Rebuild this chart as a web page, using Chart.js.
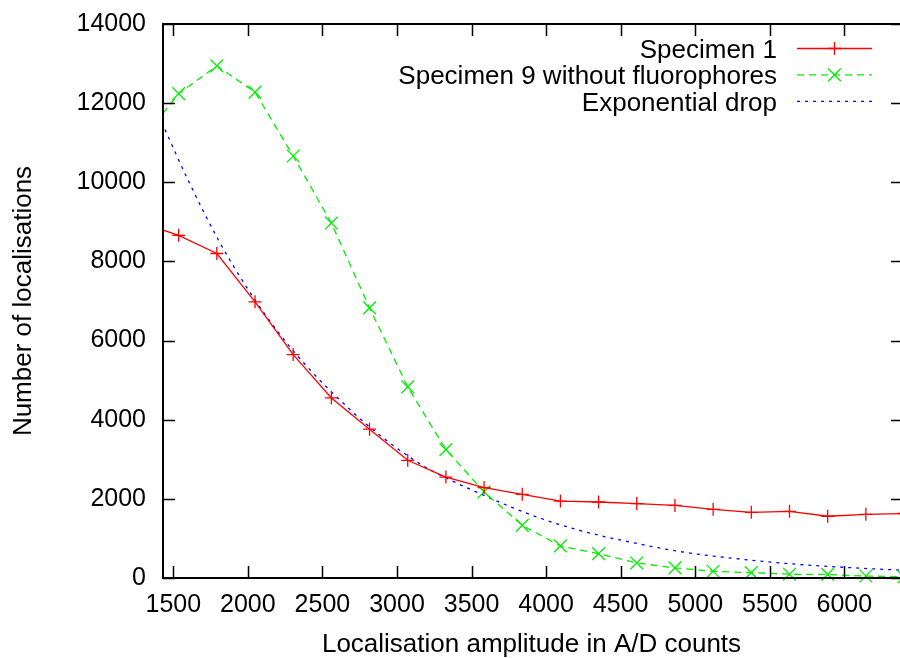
<!DOCTYPE html>
<html>
<head>
<meta charset="utf-8">
<title>Localisation amplitude histogram</title>
<script src="https://cdn.jsdelivr.net/npm/chart.js@4/dist/chart.umd.min.js"></script>
<style>
  html, body { margin: 0; padding: 0; background: #fff; overflow: hidden; }
  canvas { display: block; }
</style>
</head>
<body>
<canvas id="plot" width="900" height="658"></canvas>
<script>
// Histogram bin centres (A/D counts), 256 counts per bin
const amplitudeBins = [1280, 1536, 1792, 2048, 2304, 2560, 2816, 3072, 3328, 3584,
                       3840, 4096, 4352, 4608, 4864, 5120, 5376, 5632, 5888, 6144, 6400];

// Number of localisations per bin
const specimen1Counts = [8980, 8660, 8200, 6980, 5645, 4550, 3760, 2975, 2550, 2285,
                         2115, 1945, 1920, 1880, 1835, 1735, 1660, 1685, 1560, 1610, 1630];
const specimen9Counts = [11020, 12240, 12940, 12280, 10665, 8970, 6825, 4830, 3245, 2175,
                         1330, 810, 615, 380, 255, 170, 135, 95, 90, 50, 30];

// Exponential drop curve, sampled along the amplitude axis
const dropAmplitudes = [1400, 1600, 1800, 2000, 2200, 2400, 2600, 2800, 3000, 3200,
                        3400, 3600, 3800, 4000, 4200, 4400, 4600, 4800, 5000, 5200,
                        5400, 5600, 5800, 6000, 6200, 6400];
const dropCounts = [11700, 10050, 8560, 7300, 6230, 5330, 4560, 3870, 3280, 2780,
                    2400, 2060, 1740, 1460, 1230, 1040, 880, 730, 610, 520,
                    440, 370, 315, 270, 230, 195];

// Axis ticks and ranges
const xTickValues = [1500, 2000, 2500, 3000, 3500, 4000, 4500, 5000, 5500, 6000];
const yTickValues = [0, 2000, 4000, 6000, 8000, 10000, 12000, 14000];
const xRange = [1431, 6373];
const yRange = [0, 14000];

const seriesLabels = ['Specimen 1', 'Specimen 9 without fluorophores', 'Exponential drop'];
const axisTitles = { x: 'Localisation amplitude in A/D counts', y: 'Number of localisations' };

const FONT = "'Liberation Sans', Arial, Helvetica, sans-serif";

const pairs = (xs, ys) => xs.map((v, i) => ({ x: v, y: ys[i] }));

// Frame with inward tick marks on all four sides
const framePlugin = {
  id: 'frame',
  afterDatasetsDraw(chart) {
    const { ctx, chartArea: a, scales: { x, y } } = chart;
    ctx.save();
    ctx.strokeStyle = '#000';
    ctx.lineWidth = 1.5;
    ctx.beginPath();
    x.ticks.forEach(t => {
      const px = Math.round(x.getPixelForValue(t.value)) + 0.5;
      ctx.moveTo(px, a.bottom); ctx.lineTo(px, a.bottom - 12);
      ctx.moveTo(px, a.top); ctx.lineTo(px, a.top + 12);
    });
    y.ticks.forEach(t => {
      const py = Math.round(y.getPixelForValue(t.value)) + 0.5;
      ctx.moveTo(a.left, py); ctx.lineTo(a.left + 12, py);
      ctx.moveTo(a.right, py); ctx.lineTo(a.right - 9, py);
    });
    ctx.stroke();
    ctx.lineWidth = 2;
    ctx.beginPath();
    ctx.moveTo(a.right + 2, a.top);
    ctx.lineTo(a.left, a.top);
    ctx.lineTo(a.left, a.bottom);
    ctx.lineTo(a.right + 2, a.bottom);
    ctx.stroke();
    ctx.restore();
  }
};

// Key in the top right: right-aligned text followed by a line sample
const keyPlugin = {
  id: 'key',
  afterDraw(chart) {
    const { ctx } = chart;
    const textRight = 777, lineStart = 797, lineEnd = 872, firstRow = 48.5, rowStep = 26.4;
    ctx.save();
    ctx.font = '26px ' + FONT;
    ctx.textAlign = 'right';
    ctx.textBaseline = 'alphabetic';
    chart.data.datasets.forEach((ds, i) => {
      const yRow = firstRow + i * rowStep;
      ctx.fillStyle = '#000';
      ctx.fillText(ds.label, textRight, yRow + 9.5);
      ctx.strokeStyle = ds.borderColor;
      ctx.lineWidth = ds.borderWidth;
      ctx.setLineDash(ds.borderDash || []);
      ctx.beginPath();
      ctx.moveTo(lineStart, yRow); ctx.lineTo(lineEnd, yRow);
      ctx.stroke();
      ctx.setLineDash([]);
      const cx = (lineStart + lineEnd) / 2, r = ds.pointRadius;
      ctx.beginPath();
      if (ds.pointStyle === 'cross') {
        ctx.moveTo(cx - r, yRow); ctx.lineTo(cx + r, yRow);
        ctx.moveTo(cx, yRow - r); ctx.lineTo(cx, yRow + r);
      } else if (ds.pointStyle === 'crossRot') {
        const d = r * Math.SQRT1_2;
        ctx.moveTo(cx - d, yRow - d); ctx.lineTo(cx + d, yRow + d);
        ctx.moveTo(cx - d, yRow + d); ctx.lineTo(cx + d, yRow - d);
      }
      ctx.stroke();
    });
    ctx.restore();
  }
};

const markerClip = { left: 1, right: 6, top: 6, bottom: 12 };

new Chart(document.getElementById('plot'), {
  type: 'line',
  data: {
    datasets: [
      {
        label: seriesLabels[0],
        data: pairs(amplitudeBins, specimen1Counts),
        borderColor: '#ff0000',
        borderWidth: 1.3,
        pointStyle: 'cross',
        pointRadius: 6.5,
        pointBorderWidth: 1.3,
        pointBorderColor: '#ff0000',
        fill: false,
        tension: 0,
        clip: markerClip
      },
      {
        label: seriesLabels[1],
        data: pairs(amplitudeBins, specimen9Counts),
        borderColor: '#00ee00',
        borderWidth: 1.3,
        borderDash: [7, 5],
        pointStyle: 'crossRot',
        pointRadius: 9,
        pointBorderWidth: 1.3,
        pointBorderColor: '#00ee00',
        fill: false,
        tension: 0,
        clip: markerClip
      },
      {
        label: seriesLabels[2],
        data: pairs(dropAmplitudes, dropCounts),
        borderColor: '#0000ff',
        borderWidth: 1.3,
        borderDash: [3, 5],
        pointRadius: 0,
        fill: false,
        cubicInterpolationMode: 'monotone',
        clip: 1
      }
    ]
  },
  options: {
    responsive: false,
    animation: false,
    devicePixelRatio: 1,
    layout: { autoPadding: false, padding: { top: 24, right: 0, bottom: 0, left: 0 } },
    plugins: { legend: { display: false }, tooltip: { enabled: false } },
    scales: {
      x: {
        type: 'linear',
        min: xRange[0],
        max: xRange[1],
        grid: { display: false, drawTicks: false },
        border: { display: false },
        afterBuildTicks: s => { s.ticks = xTickValues.map(v => ({ value: v })); },
        afterFit: s => { s.height = 80; },
        ticks: {
          color: '#000',
          font: { family: FONT, size: 25, lineHeight: 1.2 },
          padding: 12,
          maxRotation: 0,
          autoSkip: false,
          callback: v => String(v)
        },
        title: {
          display: true,
          text: axisTitles.x,
          color: '#000',
          font: { family: FONT, size: 26, lineHeight: 1 },
          padding: { top: 0, bottom: 0 }
        }
      },
      y: {
        type: 'linear',
        min: yRange[0],
        max: yRange[1],
        grid: { display: false, drawTicks: false },
        border: { display: false },
        afterBuildTicks: s => { s.ticks = yTickValues.map(v => ({ value: v })); },
        afterFit: s => { s.width = 163; },
        ticks: {
          color: '#000',
          // single-line labels are drawn centred on the tick, so a small
          // line height only trims the reserved space above the top label
          font: { family: FONT, size: 25, lineHeight: 0.4 },
          padding: 17,
          autoSkip: false,
          callback: v => String(v)
        },
        title: {
          display: true,
          text: axisTitles.y,
          color: '#000',
          font: { family: FONT, size: 26, lineHeight: 1 },
          padding: { top: 11, bottom: 0 }
        }
      }
    }
  },
  plugins: [framePlugin, keyPlugin]
});
</script>
</body>
</html>
